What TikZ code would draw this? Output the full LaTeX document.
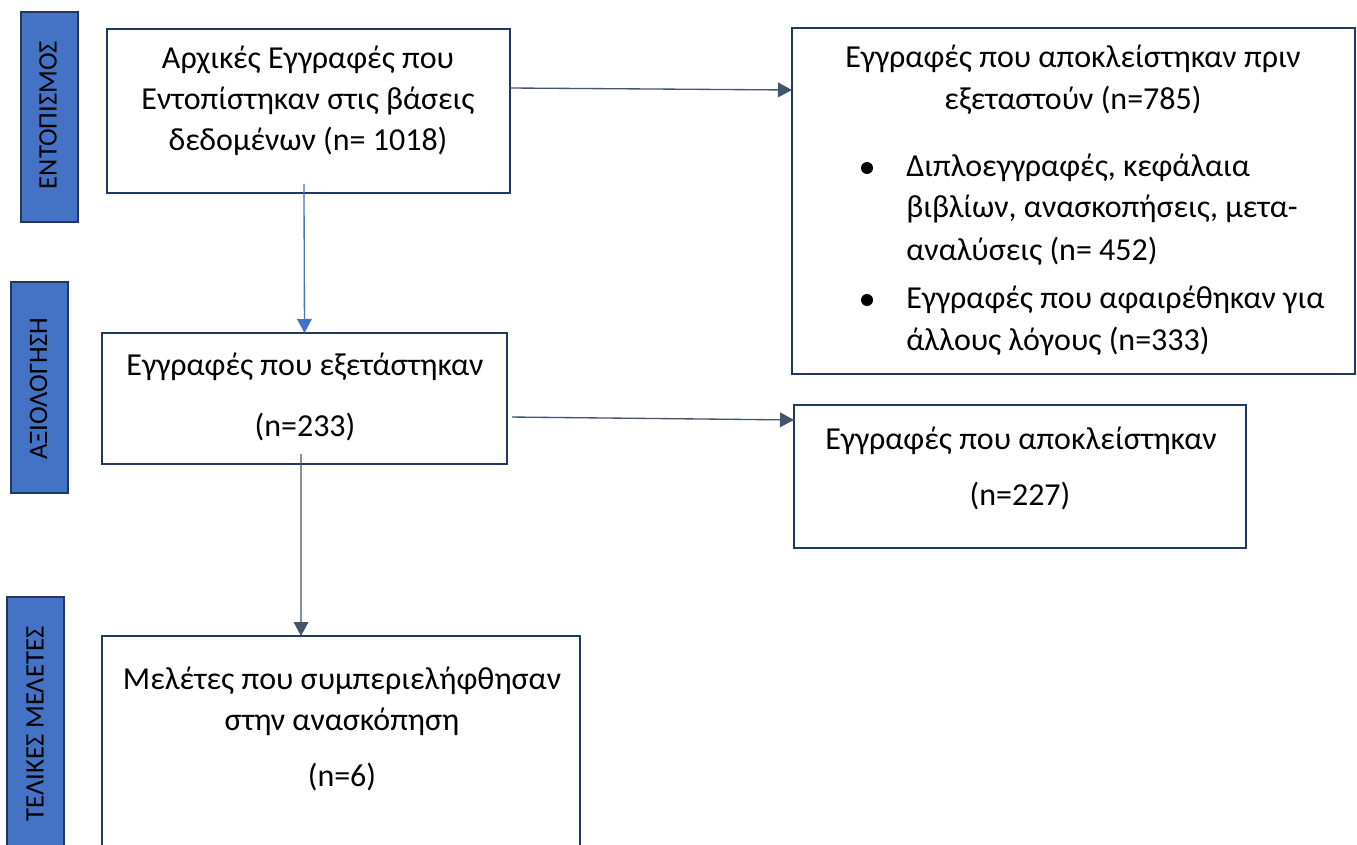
\documentclass[tikz,border=0pt]{standalone}
\usepackage{fontspec}
\setmainfont{Carlito}
\usetikzlibrary{arrows.meta}
\definecolor{sidefill}{HTML}{4472C4}
\definecolor{boxdraw}{HTML}{1F3864}
\definecolor{arrowgray}{HTML}{44546A}
\definecolor{arrowblue}{HTML}{4472C4}
\begin{document}
\begin{tikzpicture}[x=0.75pt,y=-0.75pt,
  box/.style={draw=boxdraw, line width=1.5pt, fill=white, inner sep=0pt, outer sep=0pt, anchor=north west},
  sidebox/.style={draw=boxdraw, line width=1.5pt, fill=sidefill, inner sep=0pt, outer sep=0pt, anchor=north west, minimum width=42.75pt},
  sidetext/.style={rotate=90, inner sep=0pt, font=\fontsize{20}{24}\selectfont, text=black},
  txt/.style={anchor=base, inner sep=0pt, font=\fontsize{24}{29}\selectfont, text=black},
  ltxt/.style={anchor=base west, inner sep=0pt, font=\fontsize{24}{29}\selectfont, text=black},
  bul/.style={circle, fill=black, inner sep=0pt, minimum size=9pt},
  arr/.style={draw=arrowgray, line width=1pt, -{Triangle[length=10.5pt,width=11pt]}},
  arrb/.style={draw=arrowblue, line width=1pt, -{Triangle[length=10.5pt,width=11pt]}}
]
\useasboundingbox (0,0) rectangle (1357,845);
\fill[white] (0,0) rectangle (1357,845);

% side labels
\node[sidebox, minimum height=157.5pt] (s1) at (21,12) {};
\node[sidetext] (s1t) at (48,115) {ΕΝΤΟΠΙΣΜΟΣ};
\node[sidebox, minimum height=158.25pt] (s2) at (11,282) {};
\node[sidetext] (s2t) at (38.5,389) {ΑΞΙΟΛΟΓΗΣΗ};
\node[sidebox, minimum height=195pt] (s3) at (7,597) {};
\node[sidetext] (s3t) at (35,724) {ΤΕΛΙΚΕΣ ΜΕΛΕΤΕΣ};

% boxes
\node[box, minimum width=302.25pt, minimum height=123pt] (b1) at (107,29) {};
\node[box, minimum width=422.25pt, minimum height=259.5pt] (r1) at (792,28) {};
\node[box, minimum width=303.75pt, minimum height=98.25pt] (b2) at (102,333) {};
\node[box, minimum width=339pt, minimum height=107.25pt] (r2) at (794,405) {};
\node[box, minimum width=358.5pt, minimum height=165pt] (b4) at (102,636) {};

% texts box1
\node[txt] (b1l1) at (308,69) {Αρχικές Εγγραφές που};
\node[txt] (b1l2) at (308,110) {Εντοπίστηκαν στις βάσεις};
\node[txt] (b1l3) at (308,151) {δεδομένων (n= 1018)};

% texts r1
\node[txt] (r1l1) at (1073,68) {Εγγραφές που αποκλείστηκαν πριν};
\node[txt] (r1l2) at (1073,110) {εξεταστούν (n=785)};
\node[bul] (bu1) at (867,168) {};
\node[ltxt] (r1l3) at (906,177) {Διπλοεγγραφές, κεφάλαια};
\node[ltxt] (r1l4) at (906,218) {βιβλίων, ανασκοπήσεις, μετα-};
\node[ltxt] (r1l5) at (906,260) {αναλύσεις (n= 452)};
\node[bul] (bu2) at (867,300) {};
\node[ltxt] (r1l6) at (906,308) {Εγγραφές που αφαιρέθηκαν για};
\node[ltxt] (r1l7) at (906,350) {άλλους λόγους (n=333)};

% texts box2
\node[txt] (b2l1) at (305,375) {Εγγραφές που εξετάστηκαν};
\node[txt] (b2l2) at (305,436) {(n=233)};

% texts r2
\node[txt] (r2l1) at (1021,449) {Εγγραφές που αποκλείστηκαν};
\node[txt] (r2l2) at (1020,505) {(n=227)};

% texts box4
\node[txt] (b4l1) at (342,689) {Μελέτες που συμπεριελήφθησαν};
\node[txt] (b4l2) at (342,730) {στην ανασκόπηση};
\node[txt] (b4l3) at (342,786) {(n=6)};

% arrows
\draw[arr] ([yshift=17.25pt]b1.east) -- ([yshift=83.25pt]r1.west);
\draw[arrb] ([xshift=-3.4pt,yshift=6.75pt]b1.south) -- (b2.north);
\draw[arr] ([xshift=3.75pt,yshift=-13.9pt]b2.east) -- ([yshift=42.4pt]r2.west);
\draw[arr] ([xshift=-2.6pt,yshift=7.5pt]b2.south) -- ([xshift=-30pt]b4.north);
\end{tikzpicture}
\end{document}
